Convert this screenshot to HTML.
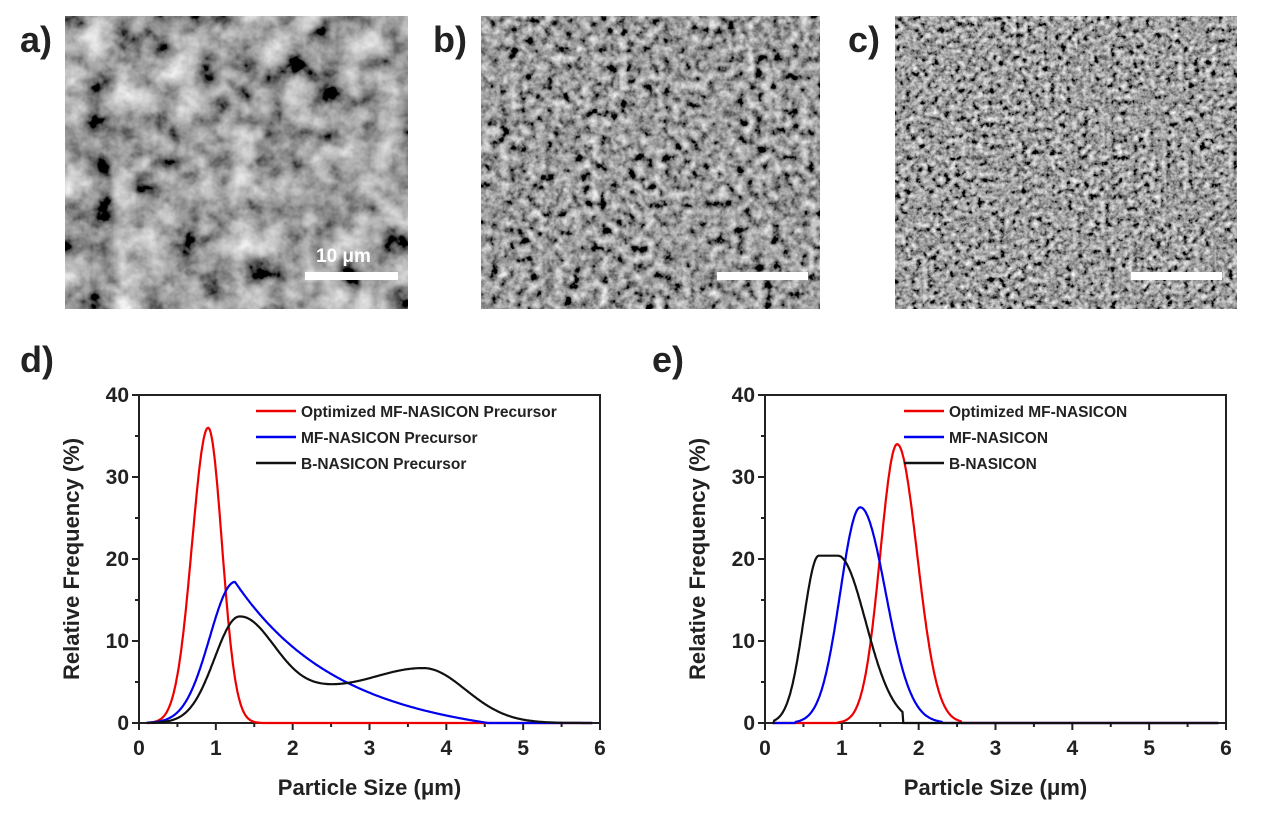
<!DOCTYPE html>
<html><head><meta charset="utf-8"><style>
body{margin:0;background:#fff;width:1268px;height:815px;overflow:hidden}
svg{position:absolute;left:0;top:0}
text{font-family:"Liberation Sans",Arial,sans-serif;font-weight:bold;fill:#222}
</style></head><body>
<svg id="s" width="1268" height="815" viewBox="0 0 1268 815">
<defs>
<filter id="fa" x="0" y="0" width="100%" height="100%"><feTurbulence type="fractalNoise" baseFrequency="0.035" numOctaves="4" seed="3"/><feColorMatrix type="matrix" values="0.95 0.95 0 0 -0.6  0.95 0.95 0 0 -0.6  0.95 0.95 0 0 -0.6  0 0 0 0 1"/></filter>
<filter id="fb" x="0" y="0" width="100%" height="100%"><feTurbulence type="fractalNoise" baseFrequency="0.11" numOctaves="3" seed="7"/><feColorMatrix type="matrix" values="1 1 0 0 -0.68  1 1 0 0 -0.68  1 1 0 0 -0.68  0 0 0 0 1"/></filter>
<filter id="fc" x="0" y="0" width="100%" height="100%"><feTurbulence type="fractalNoise" baseFrequency="0.18" numOctaves="3" seed="11"/><feColorMatrix type="matrix" values="1 1 0 0 -0.66  1 1 0 0 -0.66  1 1 0 0 -0.66  0 0 0 0 1"/></filter>
</defs>
<rect x="65" y="16" width="343" height="293" filter="url(#fa)"/>
<rect x="481" y="16" width="339" height="293" filter="url(#fb)"/>
<rect x="895" y="16" width="342" height="293" filter="url(#fc)"/>
<text x="20" y="52" font-size="36">a)</text>
<text x="433" y="52" font-size="36">b)</text>
<text x="848" y="52" font-size="36">c)</text>
<text x="316" y="262" font-size="19" style="fill:#fff">10 μm</text>
<rect x="305" y="272" width="93" height="8" fill="#fff"/>
<rect x="717" y="272" width="91" height="8" fill="#fff"/>
<rect x="1131" y="272" width="91" height="8" fill="#fff"/>
<text x="20" y="372" font-size="36">d)</text>
<text x="652" y="372" font-size="36">e)</text>
<g id="g"></g>
</svg>
<script>
var g=document.getElementById('g'),NS='http://www.w3.org/2000/svg';
function el(t,a,txt){var e=document.createElementNS(NS,t);for(var k in a)e.setAttribute(k,a[k]);if(txt!==undefined)e.textContent=txt;g.appendChild(e);return e;}
function G(x,m,sl,sr){var s=x<m?sl:sr;return Math.exp(-0.5*Math.pow((x-m)/s,2));}
function cut(x,a,b){return (x<a||x>b)?0:1;}
function plot(X0,X1,Y0,Y1,fns,legend,lx){
 var sx=function(v){return X0+(X1-X0)*v/6},sy=function(v){return Y0-(Y0-Y1)*v/40};
 el('rect',{x:X0,y:Y1,width:X1-X0,height:Y0-Y1,fill:'none',stroke:'#222','stroke-width':2});
 for(var i=0;i<=12;i++){var x=sx(i/2);el('line',{x1:x,y1:Y0,x2:x,y2:Y0+(i%2?4:7),stroke:'#222','stroke-width':2});if(i%2==0)el('text',{x:x,y:Y0+32,'font-size':21,'text-anchor':'middle'},i/2);}
 for(var i=0;i<=8;i++){var y=sy(i*5);el('line',{x1:X0,y1:y,x2:X0-(i%2?4:7),y2:y,stroke:'#222','stroke-width':2});if(i%2==0)el('text',{x:X0-10,y:y+7,'font-size':21,'text-anchor':'end'},i*5);}
 el('text',{x:(X0+X1)/2,y:Y0+72,'font-size':22,'text-anchor':'middle'},'Particle Size (μm)');
 el('text',{x:0,y:0,'font-size':22,'text-anchor':'middle',transform:'translate('+(X0-60)+','+((Y0+Y1)/2)+') rotate(-90)'},'Relative Frequency (%)');
 fns.forEach(function(f){var d='';for(var v=0.1;v<=5.9;v+=0.01){var y=Math.max(0,f[1](v));d+=(d?'L':'M')+sx(v).toFixed(1)+' '+sy(y).toFixed(1);}
  el('path',{d:d,fill:'none',stroke:f[0],'stroke-width':2.2});});
 legend.forEach(function(l,i){var y=Y1+16+i*26;el('line',{x1:lx,y1:y,x2:lx+40,y2:y,stroke:l[0],'stroke-width':2.5});el('text',{x:lx+45,y:y+6,'font-size':15.5},l[1]);});
}
plot(139,600,723,395,[
 ['#e00',function(x){return 36*G(x,0.9,0.21,0.18)*cut(x,0.15,1.6);}],
 ['#00e',function(x){return x<1.25?17.2*G(x,1.25,0.33,1):Math.max(0,17.2*Math.exp(-(x-1.25)*0.78)-1.2*(x-1.25)/3);}],
 ['#111',function(x){return 12.6*G(x,1.3,0.32,0.5)+6.7*G(x,3.7,1.0,0.55)+0.8*G(x,2.4,0.35,0.35);}]
],[['#e00','Optimized MF-NASICON Precursor'],['#00e','MF-NASICON Precursor'],['#111','B-NASICON Precursor']],256);
plot(765,1226,723,395,[
 ['#e00',function(x){return 34*G(x,1.72,0.22,0.26)*cut(x,0.95,2.55);}],
 ['#00e',function(x){return 26.3*G(x,1.24,0.26,0.33)*cut(x,0.4,2.3);}],
 ['#111',function(x){var v=x<0.7?G(x,0.7,0.2,1):(x<0.95?1:G(x,0.95,1,0.36));return 20.4*v*cut(x,0.12,1.8);}]
],[['#e00','Optimized MF-NASICON'],['#00e','MF-NASICON'],['#111','B-NASICON']],904);
</script>
</body></html>
